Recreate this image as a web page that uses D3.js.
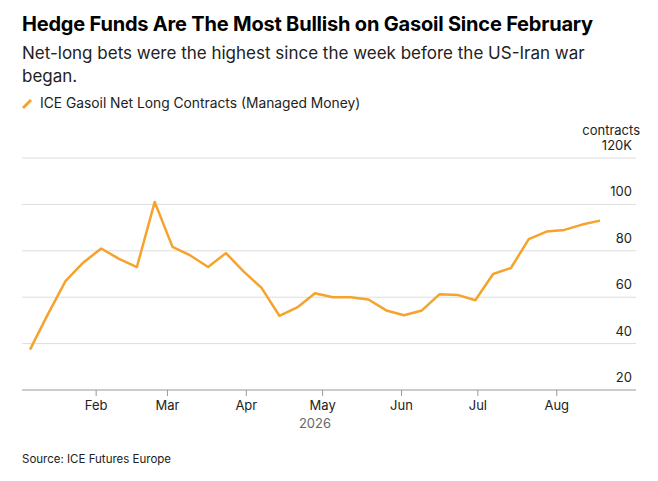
<!DOCTYPE html>
<html><head><meta charset="utf-8">
<script src="https://cdn.jsdelivr.net/npm/d3@7"></script>
<style>body{margin:0;background:#fff;font-family:Inter,"Noto Sans",sans-serif;}</style>
</head><body><div id="chart"></div>
<script>
var startDate = "2026-01-06";
var values = [37.4, 52.6, 67, 75, 81, 76.5, 73, 101, 81.7, 78, 73, 79, 71, 64, 52, 55.6, 61.7, 60, 60, 59,
  54.3, 52.2, 54.3, 61.3, 61, 58.7, 70, 72.6, 85, 88.3, 89, 91.3, 93];
var yTicks = [20, 40, 60, 80, 100, 120];
var monthTicks = ["2026-02-01","2026-03-01","2026-04-01","2026-05-01","2026-06-01","2026-07-01","2026-08-01"];

var w = 658, h = 481;
var svg = d3.select("#chart").append("svg").attr("width", w).attr("height", h);
var parse = d3.timeParse("%Y-%m-%d");
var t0 = parse(startDate);
var data = values.map(function (v, i) { return {d: d3.timeDay.offset(t0, i * 7), v: v}; });

var x = d3.scaleTime().domain([data[0].d, data[data.length - 1].d]).range([30, 600]);
var y = d3.scaleLinear().domain([20, 120]).range([390, 158]);

svg.append("text").attr("x", 22).attr("y", 31).attr("font-size", 20).attr("font-weight", 700)
  .attr("letter-spacing", -0.2).attr("fill", "#000").text("Hedge Funds Are The Most Bullish on Gasoil Since February");
svg.append("text").attr("x", 22).attr("y", 59).attr("font-size", 17).attr("fill", "#222")
  .text("Net-long bets were the highest since the week before the US-Iran war");
svg.append("text").attr("x", 22).attr("y", 82).attr("font-size", 17).attr("fill", "#222").text("began.");
svg.append("line").attr("x1", 23).attr("x2", 31).attr("y1", 108).attr("y2", 100)
  .attr("stroke", "#f5a32d").attr("stroke-width", 3);
svg.append("text").attr("x", 40).attr("y", 108).attr("font-size", 13.8).attr("fill", "#222")
  .text("ICE Gasoil Net Long Contracts (Managed Money)");

yTicks.forEach(function (t) {
  svg.append("line").attr("x1", 22).attr("x2", 636).attr("y1", y(t)).attr("y2", y(t))
    .attr("stroke", t === 20 ? "#999" : "#ddd").attr("stroke-width", 1);
  svg.append("text").attr("x", 632).attr("y", y(t) - 8).attr("text-anchor", "end")
    .attr("font-size", 13).attr("fill", "#222").text(t === 120 ? "120K" : t);
});
svg.append("text").attr("x", 640).attr("y", 135).attr("text-anchor", "end")
  .attr("font-size", 13).attr("fill", "#222").text("contracts");

var fmt = d3.timeFormat("%b");
monthTicks.forEach(function (m) {
  var xx = x(parse(m));
  svg.append("line").attr("x1", xx).attr("x2", xx).attr("y1", 390).attr("y2", 396).attr("stroke", "#999");
  svg.append("text").attr("x", xx).attr("y", 410).attr("text-anchor", "middle")
    .attr("font-size", 13).attr("fill", "#222").text(fmt(parse(m)));
});
svg.append("text").attr("x", 315).attr("y", 428).attr("text-anchor", "middle")
  .attr("font-size", 13).attr("fill", "#666").text("2026");

svg.append("path").datum(data)
  .attr("d", d3.line().x(function (d) { return x(d.d); }).y(function (d) { return y(d.v); }))
  .attr("fill", "none").attr("stroke", "#f5a32d").attr("stroke-width", 2.5).attr("stroke-linejoin", "round");

svg.append("text").attr("x", 22).attr("y", 463).attr("font-size", 11.5).attr("fill", "#222")
  .text("Source: ICE Futures Europe");
</script></body></html>
